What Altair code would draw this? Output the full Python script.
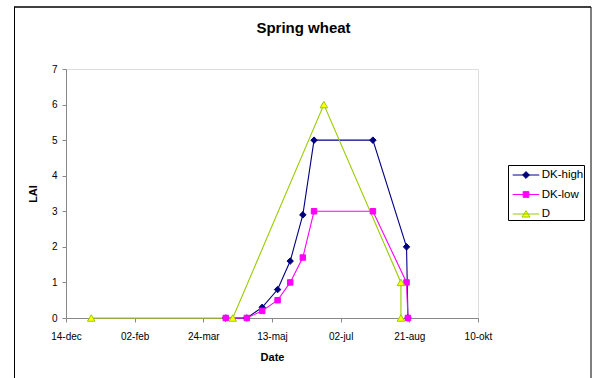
import altair as alt
import pandas as pd

# Axis setup: day offsets from the axis origin and their printed labels
axis_origin = "2004-12-14"
tick_days = [0, 49, 98, 147, 196, 245, 294]
tick_labels = ["14-dec", "02-feb", "24-mar", "13-maj", "02-jul", "21-aug", "10-okt"]
lai_ticks = [0, 1, 2, 3, 4, 5, 6, 7]

# Leaf area index series
high_dates = ["2005-04-07", "2005-04-22", "2005-05-03", "2005-05-14", "2005-05-23",
              "2005-06-01", "2005-06-09", "2005-07-21", "2005-08-14", "2005-08-15"]
high_lai = [0, 0, 0.3, 0.8, 1.6, 2.9, 5, 5, 2, 0]

low_dates = ["2005-04-07", "2005-04-22", "2005-05-03", "2005-05-14", "2005-05-23",
             "2005-06-01", "2005-06-09", "2005-07-21", "2005-08-14", "2005-08-15"]
low_lai = [0, 0, 0.2, 0.5, 1.0, 1.7, 3, 3, 1, 0]

d_dates = ["2005-01-01", "2005-04-12", "2005-06-16", "2005-08-10", "2005-08-10"]
d_lai = [0, 0, 6, 1, 0]

series_names = ["DK-high", "DK-low", "D"]
line_colors = ["#000080", "#FF00FF", "#99CC00"]
fill_colors = ["#000080", "#FF00FF", "#FFFF00"]
marker_shapes = ["diamond", "square", "triangle-up"]
marker_sizes = [42, 30, 56]

# Legend symbols: a short line with the series marker on it
legend_paths = [
    "M-1.4,0H1.4M0,-0.36L0.36,0L0,0.36L-0.36,0Z",
    "M-1.4,0H1.4M-0.3,-0.3H0.3V0.3H-0.3Z",
    "M-1.4,0H1.4M0,-0.34L0.42,0.32L-0.42,0.32Z",
]

rows = []
origin = pd.Timestamp(axis_origin)
for name, dates, vals in [("DK-high", high_dates, high_lai),
                          ("DK-low", low_dates, low_lai),
                          ("D", d_dates, d_lai)]:
    for i, (dt, v) in enumerate(zip(dates, vals)):
        rows.append({"series": name, "date": dt,
                     "day": (pd.Timestamp(dt) - origin).days,
                     "lai": v, "idx": i})
df = pd.DataFrame(rows)

label_expr = " : ".join(f"datum.value == {d} ? '{l}'" for d, l in zip(tick_days, tick_labels)) + " : ''"

FONT = "Liberation Sans"

x_enc = alt.X("day:Q",
              scale=alt.Scale(domain=[tick_days[0], tick_days[-1]], nice=False, zero=False),
              axis=alt.Axis(values=tick_days, labelExpr=label_expr, title="Date",
                            grid=False, tickSize=4, labelPadding=9, titlePadding=10,
                            labelFlush=False, labelOverlap=False))
y_enc = alt.Y("lai:Q",
              scale=alt.Scale(domain=[0, 7], nice=False),
              axis=alt.Axis(values=lai_ticks, title="LAI", grid=False, tickSize=4,
                            labelPadding=5, titlePadding=13, format="d"))

base = alt.Chart(df)

line_layers = []
point_layers = []
for name, lc, fc, shp, sz in zip(series_names, line_colors, fill_colors, marker_shapes, marker_sizes):
    sub = base.transform_filter(alt.datum.series == name)
    line_layers.append(
        sub.mark_line(color=lc, strokeWidth=1.1).encode(x=x_enc, y=y_enc, order="idx:Q")
    )
    point_layers.append(
        sub.mark_point(shape=shp, filled=True, fill=fc, stroke=lc, strokeWidth=1,
                       size=sz, opacity=1).encode(x=x_enc, y=y_enc)
    )

legend = alt.Legend(title=None, orient="none", legendX=442, legendY=96,
                    symbolSize=361, symbolStrokeWidth=1, symbolOffset=8,
                    labelOffset=5.7, labelFontSize=11.5, labelFont=FONT, labelColor="black",
                    labelExpr="datum.label + '  '",
                    rowPadding=3.5, padding=0, strokeColor="black", fillColor="white",
                    cornerRadius=0)

legend_layer = alt.Chart(df).transform_filter("false").mark_point(
    filled=True, opacity=1, strokeWidth=1
).encode(
    shape=alt.Shape("series:N", scale=alt.Scale(domain=series_names, range=legend_paths), legend=legend),
    fill=alt.Fill("series:N", scale=alt.Scale(domain=series_names, range=fill_colors), legend=legend),
    stroke=alt.Stroke("series:N", scale=alt.Scale(domain=series_names, range=line_colors), legend=legend),
)

# Outer chart frame
frame_data = alt.Data(values=[{"k": 0}])
frame_top = alt.Chart(frame_data).mark_rule(color="#404040", strokeWidth=2).encode(
    x=alt.value(-52), x2=alt.value(525), y=alt.value(-62))
frame_left = alt.Chart(frame_data).mark_rule(color="black", strokeWidth=1).encode(
    x=alt.value(-51.5), y=alt.value(-62), y2=alt.value(320))
frame_right = alt.Chart(frame_data).mark_rule(color="black", strokeWidth=1).encode(
    x=alt.value(525), y=alt.value(-62), y2=alt.value(320))

chart = alt.layer(
    frame_top, frame_left, frame_right,
    *line_layers, *point_layers, legend_layer
).properties(
    width=412, height=249,
    padding={"left": 66, "top": 69, "right": 114, "bottom": 60},
    autosize=alt.AutoSizeParams(type="none"),
    title=alt.TitleParams("Spring wheat", fontSize=15, fontWeight="bold", font=FONT,
                          color="black", anchor="middle", dx=31.5, offset=-41.5,
                          baseline="alphabetic"),
).configure_view(
    stroke="#808080", strokeWidth=1
).configure_axis(
    domainColor="black", tickColor="black", labelColor="black", titleColor="black",
    labelFont=FONT, titleFont=FONT, labelFontSize=11.5, titleFontSize=12,
    titleFontWeight="bold", domainWidth=1, tickWidth=1
).configure(background="white")

chart.save("out.html", embed_options={"renderer": "svg", "actions": False})
